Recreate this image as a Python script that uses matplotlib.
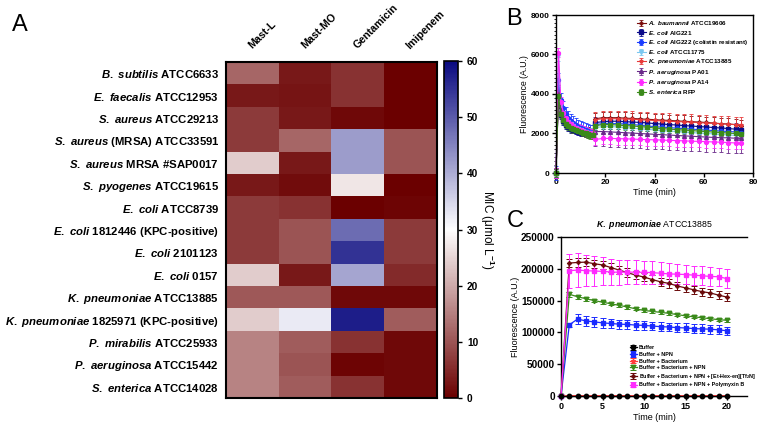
import numpy as np
import matplotlib
matplotlib.use('Agg')
import matplotlib.pyplot as plt
from matplotlib.colors import LinearSegmentedColormap
from matplotlib.ticker import MultipleLocator

plt.rcParams['font.family'] = ['Liberation Sans', 'DejaVu Sans']
plt.rcParams['font.weight'] = 'bold'
plt.rcParams['mathtext.fontset'] = 'custom'
plt.rcParams['mathtext.it'] = 'Liberation Sans:italic:bold'
plt.rcParams['mathtext.rm'] = 'Liberation Sans:bold'
plt.rcParams['mathtext.bf'] = 'Liberation Sans:bold'

# ---- Panel A data: MIC (umol/L) ----
strains = [r'$\mathit{B.\ subtilis}$ ATCC6633',
           r'$\mathit{E.\ faecalis}$ ATCC12953',
           r'$\mathit{S.\ aureus}$ ATCC29213',
           r'$\mathit{S.\ aureus}$ (MRSA) ATCC33591',
           r'$\mathit{S.\ aureus}$ MRSA #SAP0017',
           r'$\mathit{S.\ pyogenes}$ ATCC19615',
           r'$\mathit{E.\ coli}$ ATCC8739',
           r'$\mathit{E.\ coli}$ 1812446 (KPC-positive)',
           r'$\mathit{E.\ coli}$ 2101123',
           r'$\mathit{E.\ coli}$ 0157',
           r'$\mathit{K.\ pneumoniae}$ ATCC13885',
           r'$\mathit{K.\ pneumoniae}$ 1825971 (KPC-positive)',
           r'$\mathit{P.\ mirabilis}$ ATCC25933',
           r'$\mathit{P.\ aeruginosa}$ ATCC15442',
           r'$\mathit{S.\ enterica}$ ATCC14028']
drugs = ['Mast-L', 'Mast-MO', 'Gentamicin', 'Imipenem']
mast_l = [12, 3, 7, 7, 24, 3, 7, 7, 7, 24, 10.5, 24, 15.5, 15.5, 15.5]
mast_mo = [3, 2.5, 3, 12, 3, 1.5, 6, 10, 10, 3, 10.5, 32.5, 11, 10, 11]
gentamicin = [6, 6, 1, 42, 42, 27, 0, 48, 55, 41, 1, 57.5, 6, 0.5, 6]
imipenem = [0, 0, 0, 10, 10, 0, 0.5, 7, 7, 5, 1, 11, 1, 1, 1]

# ---- Panel B data: fluorescence vs time ----
t_early = [0, 1, 2, 3, 4, 5, 6, 7, 8, 9, 10, 11, 12, 13, 14, 15]
t_late = [16, 19, 22, 25, 28, 31, 34, 37, 40, 43, 46, 49, 52, 55, 58, 61, 64, 67, 70, 73, 75]
b_labels = [r'$\mathit{A.\ baumannii}$ ATCC19606',
            r'$\mathit{E.\ coli}$ AIG221',
            r'$\mathit{E.\ coli}$ AIG222 (colistin resistant)',
            r'$\mathit{E.\ coli}$ ATCC11775',
            r'$\mathit{K.\ pneumoniae}$ ATCC13885',
            r'$\mathit{P.\ aeruginosa}$ PA01',
            r'$\mathit{P.\ aeruginosa}$ PA14',
            r'$\mathit{S.\ enterica}$ RFP']
b_colors = ['#7a0c0c', '#0a0a8a', '#1a3cff', '#7cc8f0', '#e83a3a', '#6a2a8a', '#ff2aff', '#3a8a1a']
b_markers = [(4, 1, 0), 's', 'o', 'v', '*', '^', 'o', 's']
b_early = [
    [0, 4200, 3300, 2900, 2700, 2550, 2450, 2350, 2300, 2250, 2200, 2150, 2100, 2100, 2050, 2000],
    [0, 3800, 2950, 2650, 2450, 2350, 2250, 2200, 2150, 2100, 2050, 2050, 2000, 2000, 1950, 1950],
    [0, 4700, 3700, 3300, 3000, 2800, 2650, 2550, 2450, 2350, 2300, 2250, 2200, 2150, 2100, 2100],
    [0, 5900, 3500, 3000, 2750, 2600, 2500, 2400, 2300, 2250, 2200, 2150, 2100, 2050, 2050, 2000],
    [0, 4000, 3100, 2800, 2600, 2500, 2400, 2300, 2250, 2200, 2150, 2100, 2050, 2050, 2000, 2000],
    [0, 4000, 3200, 2850, 2650, 2500, 2400, 2300, 2250, 2200, 2150, 2100, 2050, 2000, 2000, 1950],
    [0, 6100, 3600, 3050, 2800, 2600, 2500, 2400, 2300, 2250, 2200, 2150, 2100, 2050, 2000, 2000],
    [0, 3900, 3000, 2700, 2500, 2400, 2300, 2250, 2200, 2150, 2100, 2050, 2000, 1950, 1900, 1900],
]
b_late = [
    [2750, 2800, 2800, 2800, 2780, 2760, 2740, 2720, 2700, 2680, 2660, 2640, 2620, 2600, 2580, 2560, 2530, 2500, 2480, 2450, 2400],
    [2550, 2600, 2620, 2620, 2600, 2580, 2560, 2540, 2500, 2480, 2450, 2430, 2400, 2380, 2350, 2330, 2300, 2280, 2250, 2220, 2200],
    [2450, 2500, 2500, 2500, 2480, 2450, 2420, 2380, 2350, 2320, 2300, 2270, 2250, 2220, 2200, 2170, 2150, 2120, 2100, 2080, 2050],
    [2300, 2350, 2350, 2330, 2300, 2270, 2240, 2210, 2180, 2150, 2120, 2100, 2070, 2050, 2020, 2000, 1980, 1950, 1930, 1900, 1900],
    [2700, 2750, 2750, 2750, 2730, 2720, 2700, 2680, 2660, 2640, 2620, 2600, 2590, 2570, 2550, 2530, 2510, 2490, 2470, 2450, 2450],
    [2100, 2100, 2080, 2060, 2040, 2020, 2000, 1980, 1960, 1940, 1920, 1900, 1880, 1860, 1840, 1820, 1800, 1790, 1780, 1760, 1750],
    [1700, 1750, 1750, 1740, 1730, 1720, 1700, 1690, 1680, 1670, 1650, 1640, 1630, 1610, 1600, 1590, 1570, 1560, 1540, 1520, 1500],
    [2400, 2450, 2450, 2430, 2400, 2380, 2350, 2320, 2280, 2250, 2220, 2200, 2170, 2150, 2120, 2100, 2070, 2050, 2020, 2000, 1950],
]
b_err_early = [250, 200, 350, 250, 250, 250, 250, 200]
b_err_late = [300, 200, 250, 200, 400, 750, 300, 200]

# ---- Panel C data ----
t_c = [0, 1, 2, 3, 4, 5, 6, 7, 8, 9, 10, 11, 12, 13, 14, 15, 16, 17, 18, 19, 20]
c_labels = ['Buffer', 'Buffer + NPN', 'Buffer + Bacterium', 'Buffer + Bacterium + NPN',
            r'Buffer + Bacterium + NPN + [Et-Hex-en][Tf$_2$N]',
            'Buffer + Bacterium + NPN + Polymyxin B']
c_colors = ['#000000', '#1a2aff', '#ff3a3a', '#3a8a1a', '#6a0a0a', '#ff2aff']
c_markers = ['o', 's', '*', 'v', (4, 1, 0), 's']
buffer = [0, 0, 0, 0, 0, 0, 0, 0, 0, 0, 0, 0, 0, 0, 0, 0, 0, 0, 0, 0, 0]
buffer_err = [0, 0, 0, 0, 0, 0, 0, 0, 0, 0, 0, 0, 0, 0, 0, 0, 0, 0, 0, 0, 0]
npn = [0, 112000, 121000, 118000, 116500, 115000, 114000, 113000, 112500, 111500, 111000,
       110000, 109000, 108500, 107500, 107000, 106000, 105500, 105000, 104000, 102500]
npn_err = [0, 3000, 8000, 7500, 7500, 7500, 7000, 7000, 7000, 7000, 7000,
           7000, 7000, 7000, 7000, 7000, 7000, 7000, 7000, 7000, 6500]
bact = [0, 500, 500, 500, 500, 500, 500, 500, 500, 500, 500,
        500, 500, 500, 500, 500, 500, 500, 500, 500, 500]
bact_err = [0, 200, 200, 200, 200, 200, 200, 200, 200, 200, 200,
            200, 200, 200, 200, 200, 200, 200, 200, 200, 200]
bact_npn = [0, 160000, 156000, 153000, 150000, 147500, 145000, 142500, 140000, 137000, 134500,
            133000, 131500, 130000, 128000, 126000, 124500, 123000, 121500, 120000, 119000]
bact_npn_err = [0, 4000, 3500, 3000, 2500, 2500, 2500, 2500, 2500, 2500, 2500,
                2500, 2500, 2500, 2500, 2500, 2500, 2500, 2500, 2500, 2500]
il = [0, 209000, 210000, 210500, 208000, 206000, 202000, 198000, 194000, 190000, 187000,
      183000, 179500, 177000, 173000, 170000, 167000, 164000, 162000, 158500, 155500]
il_err = [0, 6000, 6500, 6500, 6500, 6500, 6500, 6500, 6500, 6500, 6500,
          6500, 6500, 6500, 6500, 6500, 6500, 6500, 6500, 6500, 6500]
polymyxin = [0, 197000, 198000, 197000, 196500, 196000, 195000, 194500, 195000, 194500, 194500,
             194000, 193000, 192000, 191500, 191000, 190000, 189000, 188000, 187500, 184500]
polymyxin_err = [0, 27000, 27000, 24000, 23000, 22000, 21000, 20000, 19000, 19000, 18000,
                 18000, 17000, 16500, 16000, 15500, 15000, 15000, 14500, 14500, 15000]
c_values = [buffer, npn, bact, bact_npn, il, polymyxin]
c_errors = [buffer_err, npn_err, bact_err, bact_npn_err, il_err, polymyxin_err]

W, H = 762, 423
fig = plt.figure(figsize=(W / 100, H / 100), dpi=100)


def box(l, t, r, b):
    return [l / W, 1 - b / H, (r - l) / W, (b - t) / H]


# ---- Panel A ----
cmap = LinearSegmentedColormap.from_list('mic', [(0, '#6b0000'), (0.5, '#ffffff'), (1, '#0a0a80')])
mic = np.column_stack([mast_l, mast_mo, gentamicin, imipenem])
ax_a = fig.add_axes(box(226, 62, 437, 398))
im = ax_a.imshow(mic, cmap=cmap, vmin=0, vmax=60, aspect='auto', interpolation='nearest')
ax_a.set_yticks(range(len(strains)))
ax_a.set_yticklabels(strains, fontsize=8.2)
ax_a.set_xticks([])
ax_a.tick_params(axis='y', length=0, pad=5)
for s in ax_a.spines.values():
    s.set_linewidth(1.5)
for i, d in enumerate(drugs):
    ax_a.text(i + 0.02, -1.0, d, rotation=45, ha='left', va='bottom', rotation_mode='anchor',
              fontsize=7.7, fontweight='bold')

cax = fig.add_axes(box(444, 61, 458, 398))
cb = fig.colorbar(im, cax=cax, ticks=[0, 10, 20, 30, 40, 50, 60])
cb.outline.set_linewidth(1.2)
cax.tick_params(labelsize=7.3, length=3, width=1)
cb.set_label(r'MIC ($\mathregular{\mu}$mol L$^{-1}$)', rotation=270, fontsize=8.5, labelpad=13)

fig.text(12 / W, 1 - 31 / H, 'A', fontsize=17, fontweight='normal')
fig.text(506 / W, 1 - 25 / H, 'B', fontsize=17, fontweight='normal')
fig.text(507 / W, 1 - 227 / H, 'C', fontsize=17, fontweight='normal')

# ---- Panel B ----
ax_b = fig.add_axes(box(556, 15, 753, 173))
for k in range(len(b_labels)):
    tb = t_early + t_late
    yb = b_early[k] + b_late[k]
    eb = [b_err_early[k]] * len(t_early) + [b_err_late[k]] * len(t_late)
    ax_b.errorbar(tb, yb, yerr=eb, color=b_colors[k], marker=b_markers[k], markersize=2.8,
                  lw=0.8, elinewidth=0.6, capsize=1.5, capthick=0.6, label=b_labels[k],
                  clip_on=False)
ax_b.set_xlim(0, 80)
ax_b.set_ylim(0, 8000)
ax_b.set_xticks([0, 20, 40, 60, 80])
ax_b.set_yticks([0, 2000, 4000, 6000, 8000])
ax_b.yaxis.set_minor_locator(MultipleLocator(200))
ax_b.tick_params(labelsize=6, length=3, width=1, pad=1.5)
ax_b.tick_params(which='minor', length=1.5, width=0.6)
ax_b.set_xlabel('Time (min)', fontsize=6.5, labelpad=1)
ax_b.set_ylabel('Fluorescence (A.U.)', fontsize=6.3, labelpad=1)
for s in ax_b.spines.values():
    s.set_linewidth(1.0)
ax_b.legend(loc='upper right', fontsize=4.5, frameon=False, handlelength=1.5,
            labelspacing=0.2, borderaxespad=0.3, handletextpad=0.4)

# ---- Panel C ----
ax_c = fig.add_axes(box(561, 237, 747, 396))
for k in range(len(c_labels)):
    ax_c.errorbar(t_c, c_values[k], yerr=c_errors[k], color=c_colors[k], marker=c_markers[k],
                  markersize=3.2, lw=0.9, elinewidth=0.7, capsize=2, capthick=0.7,
                  label=c_labels[k], clip_on=False, zorder=3 if k != 0 else 4)
ax_c.set_xlim(0, 22.4)
ax_c.set_ylim(0, 250000)
ax_c.set_xticks([0, 5, 10, 15, 20])
ax_c.set_yticks([0, 50000, 100000, 150000, 200000, 250000])
ax_c.tick_params(axis='x', labelsize=6.5, length=3, width=1, pad=1.5)
ax_c.tick_params(axis='y', labelsize=7.2, length=3, width=1, pad=1.5)
ax_c.set_xlabel('Time (min)', fontsize=6.5, labelpad=1)
ax_c.set_ylabel('Fluorescence (A.U.)', fontsize=6.5, labelpad=1)
ax_c.spines['right'].set_visible(False)
for s in ax_c.spines.values():
    s.set_linewidth(1.0)
ax_c.set_title(r'$\mathit{K.\ pneumoniae}$ ATCC13885', fontsize=6.3, pad=7)
ax_c.legend(loc='lower left', bbox_to_anchor=(0.36, 0.04), fontsize=3.9, frameon=False,
            handlelength=1.2, labelspacing=0.3, handletextpad=0.4, borderaxespad=0)

fig.savefig('out.png', dpi=100)
